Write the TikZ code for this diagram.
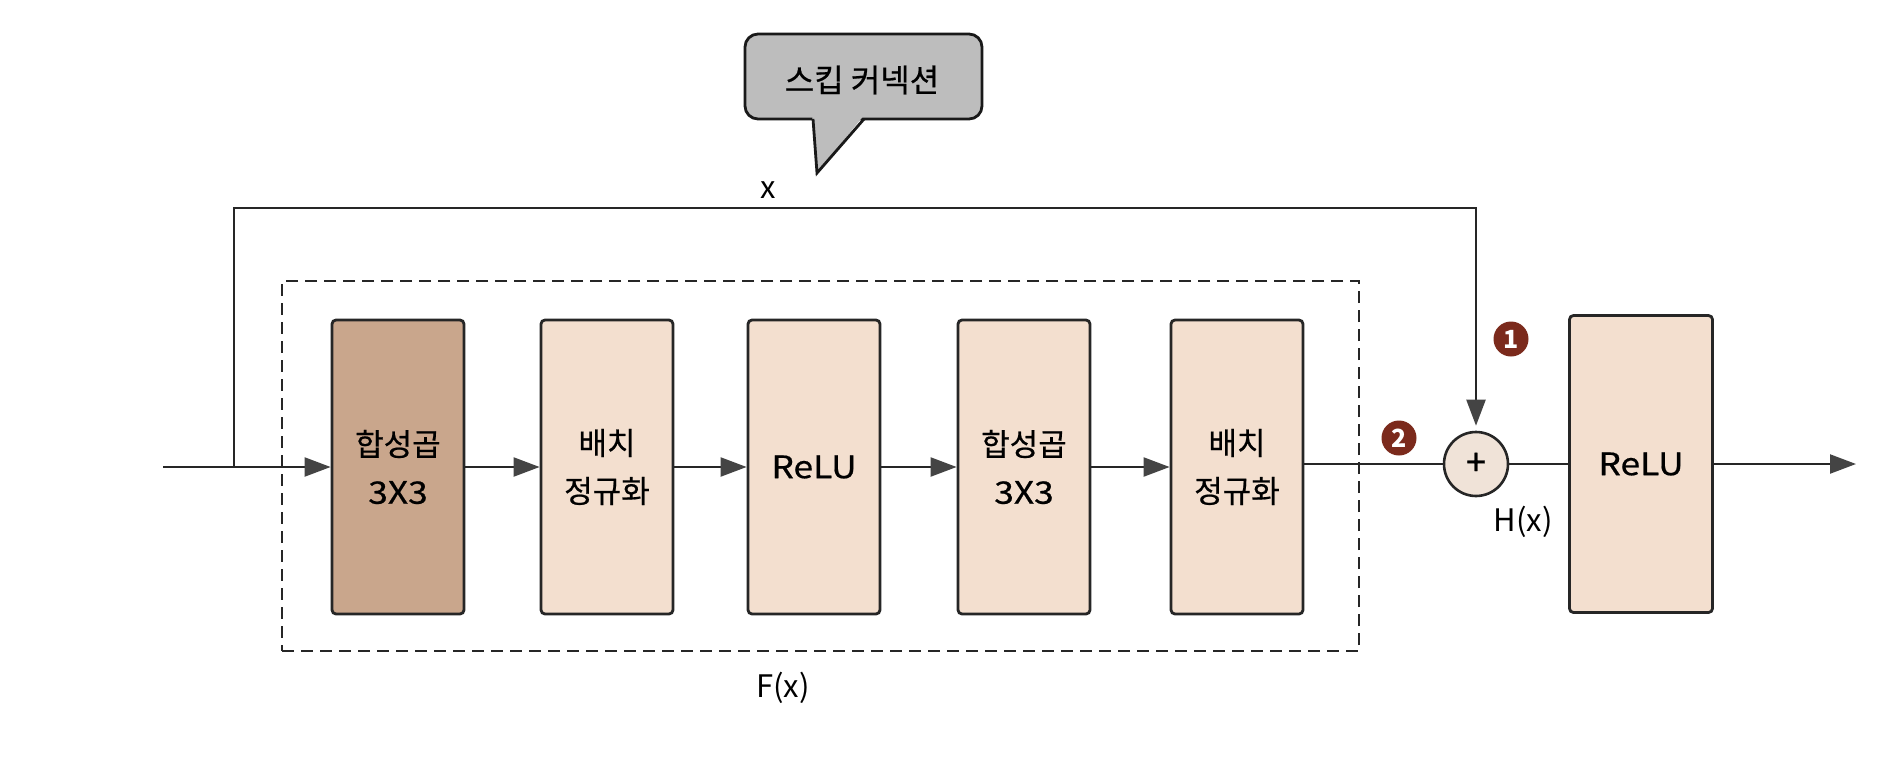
\documentclass[tikz,border=0pt]{standalone}
\usepackage{fontspec}
\setmainfont{Noto Sans CJK KR}
\newfontfamily\boxfont[FakeBold=0.6]{Noto Sans CJK KR}
\newfontfamily\boxlat[FakeBold=0.6,FakeStretch=1.14]{Noto Sans CJK KR}
\usetikzlibrary{arrows.meta}
\definecolor{peach}{HTML}{F3DFCF}
\definecolor{convtan}{HTML}{C9A68C}
\definecolor{circfill}{HTML}{F0E3D8}
\definecolor{arrowgray}{HTML}{444444}
\definecolor{badgered}{HTML}{7B2A1C}
\definecolor{bubblegray}{HTML}{BDBDBD}
\begin{document}
\begin{tikzpicture}[x=1pt,y=-1pt,
  blk/.style={draw=black!85, line width=2.8pt, rounded corners=4pt, minimum width=132pt, minimum height=294pt, inner sep=0pt, fill=peach, align=center, font=\boxfont\fontsize{31}{48}\selectfont},
  conn/.style={line width=2.2pt, draw=black!85},
  arr/.style={conn, -{Triangle[length=26pt,width=19pt,fill=arrowgray,color=arrowgray]}},
  lbl/.style={font=\fontsize{31}{36}\selectfont, inner sep=0pt},
  badge/.style={circle, fill=badgered, text=white, inner sep=0pt, minimum size=35pt, font=\fontsize{25}{25}\selectfont\bfseries}
]
\useasboundingbox (0,0) rectangle (1880,761);
\fill[white] (0,0) rectangle (1880,761);

% dashed frame F(x)
\node[draw=black!85, dash pattern=on 12pt off 7pt, line width=2.8pt, minimum width=1077pt, minimum height=370pt, inner sep=0pt] (fbox) at (820.5,466) {};

% blocks
\node[blk, fill=convtan] (b1) at (398,467) {합성곱\\{\boxlat 3X3}};
\node[blk] (b2) at (607,467) {배치\\정규화};
\node[blk] (b3) at (814,467) {\boxlat ReLU};
\node[blk] (b4) at (1024,467) {합성곱\\{\boxlat 3X3}};
\node[blk] (b5) at (1237,467) {배치\\정규화};
\node[circle, draw=black!85, line width=2.6pt, fill=circfill, minimum size=64pt, inner sep=0pt, font=\boxfont\fontsize{36}{36}\selectfont] (plus) at (1476,464) {+};
\node[blk, minimum width=143pt, minimum height=297pt] (r2) at (1641,464) {\boxlat ReLU};

% coordinates
\coordinate (in) at (163,467);
\coordinate (split) at (234,467);
\coordinate (tr) at (1476,208);
\coordinate (out) at (1856,464);

% connectors
\draw[arr] (in) -- (b1);
\draw[arr] (b1) -- (b2);
\draw[arr] (b2) -- (b3);
\draw[arr] (b3) -- (b4);
\draw[arr] (b4) -- (b5);
\draw[conn] (b5.east |- plus) -- (plus);
\draw[conn] (plus) -- (r2);
\draw[arr] (r2) -- (out);
\draw[arr, shorten >=5pt] (split) |- (tr) -- (plus.north);

% labels
\node[lbl] (xl) at (768,190) {x};
\node[lbl] (fx) at (783,688) {F(x)};
\node[lbl] (hx) at (1523,522) {H(x)};
\node[badge] (n1) at (1511,339) {1};
\node[badge] (n2) at (1399,438) {2};

% speech bubble
\node[draw=black!90, line width=2.8pt, rounded corners=13pt, fill=bubblegray, minimum width=237pt, minimum height=85pt, inner sep=0pt] (bub) at (863.5,76.5) {};
\fill[bubblegray] (812,114) -- (817,173) -- (865,114) -- cycle;
\draw[black!90, line width=2.8pt, line join=miter] (813,119) -- (817,173) -- (864,119);
\node[font=\boxfont\fontsize{32}{32}\selectfont, inner sep=0pt] (bubtext) at (862,80) {스킵 커넥션};
\end{tikzpicture}
\end{document}
